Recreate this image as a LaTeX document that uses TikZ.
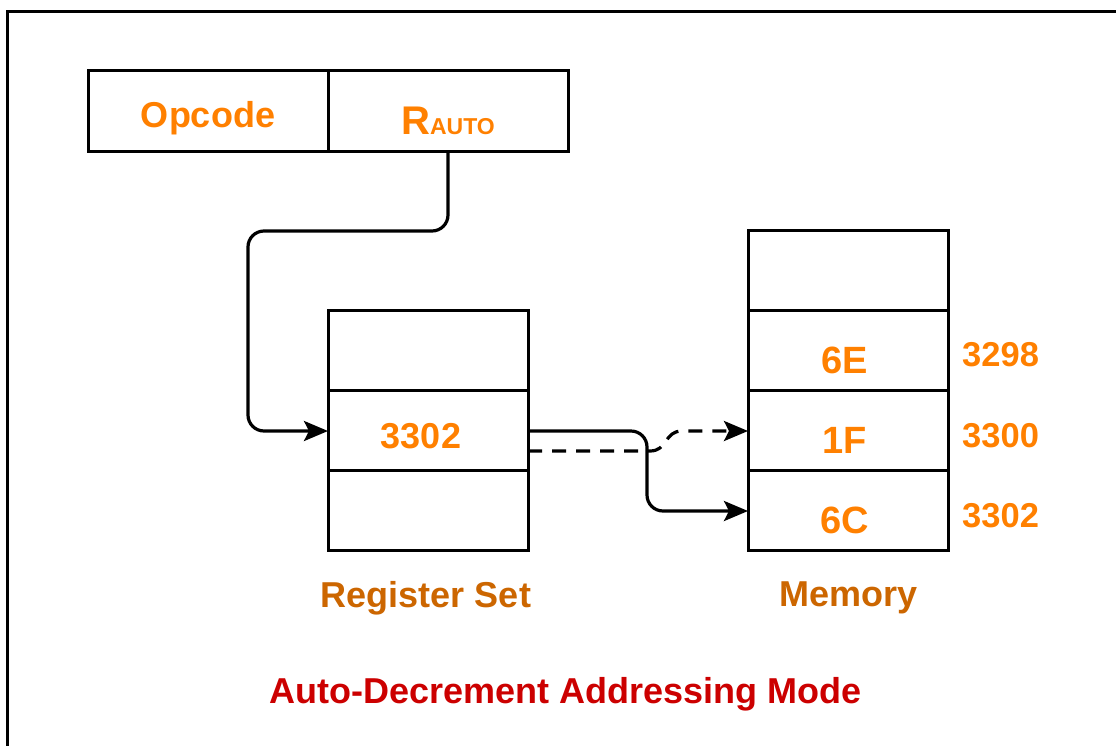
\documentclass[tikz,border=0pt]{standalone}
\usepackage{fontspec}
\setmainfont{Liberation Sans}
\usetikzlibrary{arrows.meta}
\definecolor{txtorange}{HTML}{FF8000}
\definecolor{lblorange}{HTML}{CC6600}
\definecolor{ttlred}{HTML}{CC0000}
\tikzset{
  cell/.style={draw=black, line width=3pt, minimum width=200pt, minimum height=80pt, inner sep=0pt, outer sep=0pt, anchor=north west},
  icell/.style={draw=black, line width=3pt, minimum width=240pt, minimum height=81pt, inner sep=0pt, outer sep=0pt, anchor=north west},
  celltext/.style={font=\fontsize{36}{43}\selectfont\bfseries, text=txtorange, inner sep=0pt},
  memtext/.style={font=\fontsize{38}{45}\selectfont\bfseries, text=txtorange, inner sep=0pt},
  conn/.style={line width=3.2pt, rounded corners=16pt, -{Stealth[length=24pt,width=20pt,inset=5pt]}},
  dconn/.style={conn, dash pattern=on 14pt off 10pt},
  addr/.style={font=\fontsize{34.5}{40}\selectfont\bfseries, text=txtorange, anchor=west, inner sep=0pt},
  caption/.style={font=\fontsize{36}{42}\selectfont\bfseries, text=lblorange, inner sep=0pt},
  title/.style={font=\fontsize{36}{42}\selectfont\bfseries, text=ttlred, inner sep=0pt}
}
\begin{document}
\begin{tikzpicture}[x=1pt,y=-1pt]
\clip (0,0) rectangle (1116,745);
\fill[white] (0,0) rectangle (1116,745);
% outer frame (cut off at right and bottom)
\draw[line width=3pt] (7.5,760) -- (7.5,11.5) -- (1130,11.5);

% instruction
\node[icell] (opc) at (88,70) {};
\node[icell] (rauto) at (328,70) {};
\node[celltext] (opct) at ([xshift=0pt,yshift=-8pt]opc.center) {Opcode};
\node[text=txtorange, inner sep=0pt] (raut) at ([yshift=-10pt]rauto.center) {\fontsize{40}{46}\selectfont\bfseries R\fontsize{23}{28}\selectfont AUTO};

% register set
\node[cell] (r1) at (328,310) {};
\node[cell] (r2) at (328,390) {};
\node[cell] (r3) at (328,470) {};
\node[celltext] (r2t) at ([xshift=-7pt,yshift=-6pt]r2.center) {3302};

% memory
\node[cell] (m1) at (748,230) {};
\node[cell] (m2) at (748,310) {};
\node[cell] (m3) at (748,390) {};
\node[cell] (m4) at (748,470) {};
\node[memtext] (m2t) at ([xshift=-3pt,yshift=-10pt]m2.center) {6E};
\node[memtext] (m3t) at ([xshift=-3pt,yshift=-10pt]m3.center) {1F};
\node[memtext] (m4t) at ([xshift=-3pt,yshift=-10pt]m4.center) {6C};

\node[addr] (a1) at ([xshift=14pt,yshift=-5pt]m2.east) {3298};
\node[addr] (a2) at ([xshift=14pt,yshift=-6pt]m3.east) {3300};
\node[addr] (a3) at ([xshift=14pt,yshift=-6pt]m4.east) {3302};

% captions
\node[caption] (rcap) at (426,598) {Register Set};
\node[caption] (mcap) at (849,598) {Memory};
\node[title] (ttl) at (566,694) {Auto-Decrement Addressing Mode};

% connectors
\coordinate (p1) at (rauto.south |- 0,231);
\coordinate (p2) at (248,231);
\coordinate (p3) at (248,431);
\draw[conn] (rauto.south) -- (p1) -- (p2) -- (p3) -- ([yshift=-1pt]r2.west);

\coordinate (s1) at (647,431);
\coordinate (s2) at (647,511);
\draw[conn] ([yshift=-1pt]r2.east) -- (s1) -- (s2) -- ([yshift=-1pt]m4.west);

\coordinate (d0) at ([yshift=-21pt]r2.east);
\coordinate (d1) at (650,451);
\coordinate (d2) at (682,431);
\draw[dconn, rounded corners=0pt] (d0) -- (d1) .. controls (668,451) and (664,431) .. (d2) -- ([yshift=-1pt]m3.west);
\end{tikzpicture}
\end{document}
